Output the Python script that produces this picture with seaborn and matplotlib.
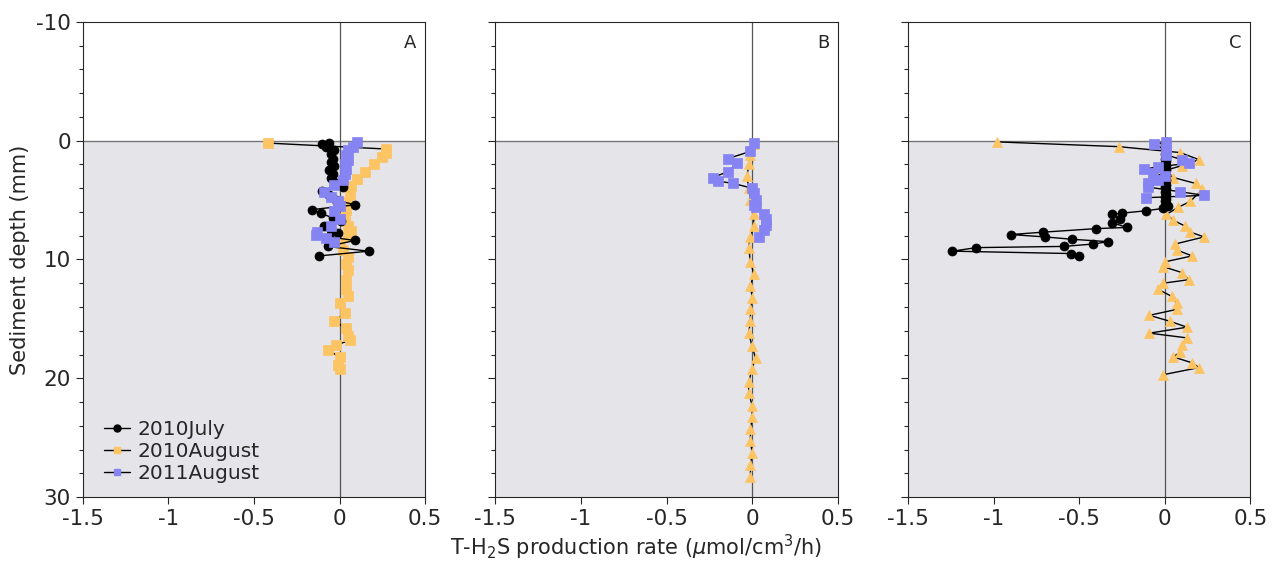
import numpy as np
import pandas as pd
import matplotlib.pyplot as plt
from matplotlib.lines import Line2D
from matplotlib.ticker import MultipleLocator
import seaborn as sns

# panel A
a_jul_depth = [0.2, 0.3, 0.5, 0.8, 1.1, 1.5, 1.8, 2.1, 2.5, 2.8, 3.1, 3.5, 3.9, 4.2, 4.6, 5.0,
               5.4, 5.8, 6.1, 6.5, 6.8, 7.2, 7.5, 7.8, 8.1, 8.4, 8.9, 9.3, 9.7]
a_jul_rate = [-0.06, -0.10, -0.08, -0.03, -0.05, -0.04, -0.05, -0.03, -0.06, -0.04, -0.05, -0.03,
              0.02, -0.10, -0.06, -0.02, 0.09, -0.16, -0.11, -0.04, 0.01, -0.09, -0.05, -0.01,
              -0.06, 0.09, -0.07, 0.17, -0.12]
a_aug10_depth = [0.2, 0.7, 1.0, 1.4, 2.0, 2.6, 3.2, 3.8, 4.5, 5.2, 5.8, 6.5, 7.2, 7.6, 8.0, 8.6,
                 9.2, 9.8, 10.4, 10.9, 11.7, 12.5, 13.1, 13.7, 14.5, 15.2, 15.8, 16.4, 16.8,
                 17.2, 17.6, 18.2, 18.9, 19.2]
a_aug10_rate = [-0.42, 0.27, 0.27, 0.25, 0.20, 0.15, 0.10, 0.07, 0.06, 0.05, 0.04, 0.03, 0.05,
                0.07, 0.05, 0.00, 0.02, 0.05, 0.04, 0.05, 0.04, 0.04, 0.05, 0.00, 0.03, -0.03,
                0.04, 0.05, 0.06, -0.02, -0.07, 0.00, -0.01, 0.00]
a_aug11_depth = [0.1, 0.5, 0.8, 1.2, 1.6, 2.0, 2.4, 2.8, 3.3, 3.7, 4.3, 4.7, 5.1, 5.5, 5.9,
                 6.6, 7.2, 7.7, 7.9, 8.2, 8.5]
a_aug11_rate = [0.10, 0.08, 0.05, 0.04, 0.05, 0.03, 0.04, 0.03, 0.02, -0.03, -0.09, -0.05,
                -0.01, 0.00, -0.03, 0.00, -0.05, -0.13, -0.14, -0.08, -0.03]

# panel B
b_aug10_depth = [0.3, 1.2, 2.0, 3.0, 4.0, 5.0, 6.2, 7.2, 8.1, 9.0, 10.2, 11.2, 12.2, 13.2, 14.2,
                 15.2, 16.2, 17.3, 18.3, 19.2, 20.3, 21.2, 22.3, 23.3, 24.3, 25.3, 26.3, 27.3, 28.3]
b_aug10_rate = [0.01, -0.01, -0.02, -0.03, -0.02, -0.01, 0.01, 0.01, -0.01, -0.02, -0.01, 0.01,
                -0.01, 0.00, -0.01, -0.01, -0.02, 0.00, 0.02, 0.00, -0.02, -0.02, 0.00, 0.00,
                -0.01, -0.01, 0.00, -0.01, -0.01]
b_aug11_depth = [0.2, 0.9, 1.5, 1.9, 2.6, 3.1, 3.4, 3.6, 4.0, 4.4, 5.0, 5.4, 5.6, 6.2, 6.6, 7.1,
                 7.5, 8.1]
b_aug11_rate = [0.01, -0.01, -0.14, -0.09, -0.14, -0.23, -0.20, -0.11, 0.00, 0.01, 0.02, 0.01,
                0.02, 0.07, 0.08, 0.08, 0.07, 0.04]

# panel C
c_jul_depth = [0.1, 0.3, 0.5, 0.7, 0.9, 1.1, 1.3, 1.5, 1.7, 1.9, 2.1, 2.3, 2.5, 2.7, 2.9, 3.1,
               3.3, 3.5, 3.7, 3.9, 4.1, 4.3, 4.5, 4.7, 4.9, 5.1, 5.3, 5.5, 5.7, 5.9,
               6.1, 6.2, 6.6, 6.9, 7.3, 7.4, 7.7, 7.9, 8.1, 8.3, 8.5, 8.7, 8.9, 9.0, 9.3, 9.5, 9.7]
c_jul_rate = [0.01, 0.00, 0.01, 0.00, 0.01, 0.00, 0.01, 0.00, 0.01, 0.00, 0.01, 0.00, 0.01, 0.00,
              0.01, 0.00, 0.01, 0.00, 0.01, 0.00, 0.01, 0.00, 0.01, 0.00, 0.01, 0.00, 0.01, 0.02,
              -0.01, -0.11, -0.25, -0.31, -0.26, -0.31, -0.22, -0.40, -0.71, -0.90, -0.70, -0.54,
              -0.33, -0.42, -0.59, -1.10, -1.24, -0.55, -0.50]
c_aug10_depth = [0.1, 0.5, 1.0, 1.6, 2.1, 2.6, 3.1, 3.6, 4.1, 5.1, 5.6, 6.2, 6.7, 7.2, 7.7, 8.1,
                 8.7, 9.2, 9.7, 10.2, 10.6, 11.1, 11.7, 12.0, 12.5, 13.1, 13.7, 14.2, 14.7, 15.2,
                 15.7, 16.2, 16.6, 17.2, 17.8, 18.2, 18.7, 19.1, 19.7]
c_aug10_rate = [-0.98, -0.27, 0.09, 0.20, 0.10, -0.02, 0.05, 0.18, 0.22, 0.15, 0.08, 0.01, 0.05,
                0.12, 0.15, 0.23, 0.06, 0.07, 0.16, 0.00, -0.01, 0.10, 0.14, -0.01, -0.04, 0.04,
                0.07, 0.07, -0.09, 0.03, 0.13, -0.09, 0.13, 0.10, 0.09, 0.05, 0.16, 0.20, -0.01]
c_aug11_depth = [0.1, 0.3, 0.8, 1.2, 1.6, 1.9, 2.2, 2.4, 2.7, 3.0, 3.3, 3.6, 3.9, 4.3, 4.6, 4.8]
c_aug11_rate = [0.01, -0.06, 0.01, 0.01, 0.10, 0.14, -0.04, -0.12, -0.07, 0.00, -0.04, -0.10,
                -0.10, 0.09, 0.23, -0.11]

labels = ['2010July', '2010August', '2011August']
panel_names = ['A', 'B', 'C']

jul_color = 'black'
aug10_color = '#fdc463'
aug11_color = '#8584f2'
shade_color = '#e5e4e8'

sns.set_style('ticks')
plt.rcParams['font.family'] = ['DejaVu Sans']
plt.rcParams['mathtext.fontset'] = 'dejavusans'


def draw_series(ax, rate, depth, marker, color, ms):
    df = pd.DataFrame({'rate': rate, 'depth': depth})
    sns.lineplot(data=df, x='rate', y='depth', sort=False, estimator=None, ax=ax,
                 color='black', linewidth=1.0, marker=marker, markersize=ms,
                 markerfacecolor=color, markeredgecolor=color, markeredgewidth=0.5,
                 zorder=3)


f, axes = plt.subplots(1, 3, figsize=(12.72, 5.76), dpi=100)
f.subplots_adjust(left=0.065, right=0.983, top=0.962, bottom=0.137, wspace=0.205)

ax = axes[0]
draw_series(ax, a_aug10_rate, a_aug10_depth, 's', aug10_color, 7)
draw_series(ax, a_jul_rate, a_jul_depth, 'o', jul_color, 6.5)
draw_series(ax, a_aug11_rate, a_aug11_depth, 's', aug11_color, 7.5)

ax = axes[1]
draw_series(ax, b_aug10_rate, b_aug10_depth, '^', aug10_color, 6.5)
draw_series(ax, b_aug11_rate, b_aug11_depth, 's', aug11_color, 7.5)

ax = axes[2]
draw_series(ax, c_aug10_rate, c_aug10_depth, '^', aug10_color, 6.5)
draw_series(ax, c_jul_rate, c_jul_depth, 'o', jul_color, 6.5)
draw_series(ax, c_aug11_rate, c_aug11_depth, 's', aug11_color, 7.5)

for i, (ax, name) in enumerate(zip(axes, panel_names)):
    ax.axhspan(0, 30, color=shade_color, zorder=0, lw=0)
    ax.axhline(0, color='#777777', lw=1, zorder=1)
    ax.axvline(0, color='#555555', lw=0.9, zorder=1)
    ax.set_xlim(-1.5, 0.5)
    ax.set_ylim(30, -10)
    ax.yaxis.set_minor_locator(MultipleLocator(2))
    ax.set_xticks([-1.5, -1, -0.5, 0, 0.5], ['-1.5', '-1', '-0.5', '0', '0.5'])
    ax.set_yticks([-10, 0, 10, 20, 30], ['-10', '0', '10', '20', '30'])
    ax.tick_params(axis='both', which='major', labelsize=15.5, length=5, width=0.8)
    ax.tick_params(axis='y', which='minor', length=3, width=0.8)
    if i > 0:
        ax.tick_params(axis='y', labelleft=False)
    for sp in ax.spines.values():
        sp.set_visible(True)
        sp.set_linewidth(0.8)
    ax.set_xlabel('')
    ax.set_ylabel('')
    ax.text(0.975, 0.975, name, transform=ax.transAxes, ha='right', va='top', fontsize=13)

axes[0].set_ylabel('Sediment depth (mm)', fontsize=15)

handles = [Line2D([], [], color='black', lw=1, marker=m, ms=5, mfc=c, mec=c)
           for m, c in zip(['o', 's', 's'], [jul_color, aug10_color, aug11_color])]
axes[0].legend(handles, labels, loc='lower left', frameon=False, fontsize=14.5,
               handlelength=1.3, handletextpad=0.4, labelspacing=0.15,
               borderaxespad=0.3, bbox_to_anchor=(0.02, 0.0))

f.text(0.5, 0.025, r'T-H$_2$S production rate ($\mu$mol/cm$^3$/h)', ha='center',
       va='bottom', fontsize=15)

f.savefig('out.png', dpi=100)
